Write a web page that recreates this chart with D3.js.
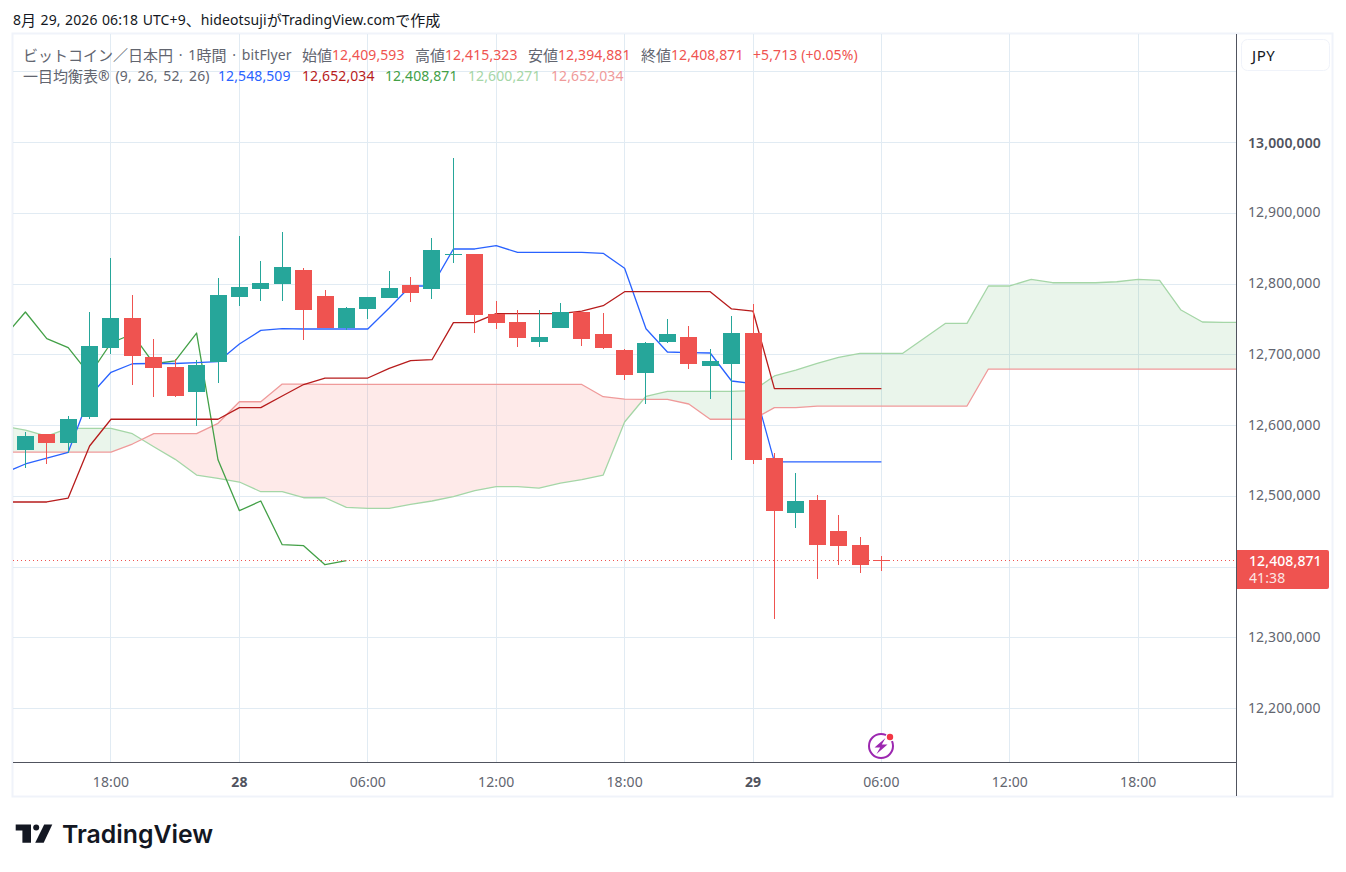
<!DOCTYPE html>
<html lang="ja"><head><meta charset="utf-8">
<script src="https://cdn.jsdelivr.net/npm/d3@7/dist/d3.min.js"></script>
<style>
html,body{margin:0;padding:0;background:#fff;overflow:hidden}
svg{display:block}
text{font-family:"Noto Sans","Noto Sans CJK JP",sans-serif;font-size:14px;letter-spacing:.1px;dominant-baseline:central}
tspan.cjk{font-family:"Noto Sans CJK JP",sans-serif;font-size:15px;letter-spacing:0}
</style></head><body><svg id="c" width="1346" height="872"></svg>
<script>
// all prices in thousands of JPY; candle series start at hour -10, relative to 28 Aug 00:00
const candleStart=-10, lineStart=-11;
const opens=[12565.4,12588.0,12575.7,12612.4,12710.0,12751.9,12696.8,12682.7,12647.8,12690.2,12782.0,12793.3,12800.4,12819.8,12783.0,12738.2,12765.1,12780.6,12798.6,12793.3,12841.6,12842.4,12758.0,12746.3,12718.4,12738.2,12760.4,12729.3,12706.7,12674.6,12718.4,12725.1,12684.5,12687.3,12730.7,12554.0,12476.7,12494.7,12450.9,12431.1,12409.593];
const highs=[12590.8,12588.0,12613.4,12760.4,12836.7,12784.4,12722.2,12694.0,12692.6,12808.5,12867.8,12832.5,12873.5,12822.6,12791.5,12767.5,12781.6,12818.4,12809.9,12865.0,12978.1,12842.4,12776.0,12763.2,12763.2,12773.1,12760.4,12759.0,12708.1,12718.0,12750.5,12740.6,12708.1,12754.8,12771.7,12561.1,12532.9,12501.8,12473.5,12442.4,12415.323];
const lows=[12539.9,12546.0,12561.1,12609.6,12701.5,12657.7,12640.7,12640.7,12599.7,12660.5,12769.3,12776.4,12776.4,12721.3,12737.8,12735.0,12750.9,12780.6,12775.0,12779.2,12830.1,12731.2,12736.8,12711.4,12711.4,12738.2,12712.8,12708.5,12664.7,12630.8,12717.0,12680.3,12637.9,12551.6,12546.0,12326.9,12455.5,12383.4,12403.2,12391.9,12394.881];
const closes=[12585.1,12575.7,12609.2,12712.4,12751.9,12698.6,12681.7,12642.1,12685.5,12784.4,12795.7,12801.4,12824.0,12763.7,12738.2,12766.1,12781.6,12794.3,12787.7,12848.0,12842.4,12756.6,12745.3,12724.1,12725.1,12760.4,12722.7,12710.0,12671.8,12716.6,12729.3,12687.3,12691.2,12730.7,12551.6,12479.6,12493.3,12431.5,12430.1,12403.2,12408.871];
const tenkan=[12532.8,12545.6,12554.0,12562.1,12641.7,12675.2,12687.3,12687.6,12687.6,12689.0,12690.2,12715.2,12734.5,12736.8,12736.4,12736.4,12736.4,12736.4,12766.1,12797.2,12797.2,12849.5,12849.5,12854.1,12844.8,12844.8,12844.8,12844.8,12843.4,12822.2,12736.8,12703.9,12702.9,12702.5,12662.9,12659.1,12548.509,12548.509,12548.509,12548.509,12548.509,12548.509];
const kijun=[12491.9,12491.9,12491.9,12497.5,12571.0,12608.8,12608.8,12608.8,12608.8,12608.8,12608.8,12625.2,12625.2,12641.7,12657.9,12667.1,12667.1,12667.1,12680.8,12691.6,12693.0,12745.3,12745.3,12758.0,12758.0,12758.0,12758.0,12761.8,12769.3,12789.1,12789.1,12789.1,12789.1,12789.1,12764.7,12761.8,12652.034,12652.034,12652.034,12652.034,12652.034,12652.034];
const chikou=[12725.1,12760.4,12722.7,12710.0,12671.8,12716.6,12729.3,12687.3,12691.2,12730.7,12551.6,12479.6,12493.3,12431.5,12430.1,12403.2,12408.871];
const spanA=[12598.7,12593.6,12585.1,12596.0,12596.0,12596.0,12588.4,12570.0,12552.2,12530.0,12525.4,12520.1,12506.4,12506.4,12497.9,12497.9,12484.4,12483.0,12483.0,12488.6,12493.3,12499.4,12507.8,12513.5,12513.5,12511.6,12518.7,12523.4,12530.0,12604.9,12641.3,12648.3,12648.3,12648.3,12648.3,12649.2,12670.0,12678.4,12687.9,12696.4,12702.0,12702.0,12702.0,12723.2,12744.4,12744.4,12797.2,12797.2,12806.6,12801.8,12801.8,12801.8,12803.2,12806.6,12805.2,12763.2,12746.3,12745.8,12745.8];
const spanB=[12562.5,12562.5,12562.5,12562.5,12562.5,12562.5,12573.8,12588.4,12588.4,12588.4,12603.1,12633.6,12633.6,12658.6,12658.6,12658.0,12658.0,12658.0,12658.0,12658.0,12658.0,12658.0,12658.0,12658.0,12658.0,12658.0,12658.0,12658.0,12640.7,12637.4,12637.0,12637.0,12630.4,12608.8,12608.8,12608.8,12625.2,12625.2,12627.5,12627.5,12627.5,12627.5,12627.5,12627.5,12627.5,12627.5,12679.8,12679.8,12679.8,12679.8,12679.8,12679.8,12679.8,12679.8,12679.8,12679.8,12679.8,12679.8,12679.8];
const lastPrice=12408.871;
const gridPrices=[13100,13000,12900,12800,12700,12600,12500,12400,12300,12200];
const labelPrices=[13000,12900,12800,12700,12600,12500,12300,12200];
const timeHours=[-6,0,6,12,18,24,30,36,42];
const timeLabels=["18:00","28","06:00","12:00","18:00","29","06:00","12:00","18:00"];
const boldTimes=["28","29"];
const legendRow1=[["ビットコイン／日本円 · 1時間 · bitFlyer",23,"gray"],["始値",302,"gray"],["12,409,593",332,"down"],["高値",415,"gray"],["12,415,323",445,"down"],["安値",528,"gray"],["12,394,881",558,"down"],["終値",641,"gray"],["12,408,871",671,"down"],["+5,713 (+0.05%)",753,"down"]];
const legendRow2=[["一目均衡表® (9, 26, 52, 26)",23,"gray"],["12,548,509",218,"tenkan"],["12,652,034",302,"kijun"],["12,408,871",385,"chikou"],["12,600,271",468,"spanA"],["12,652,034",551,"spanB"]];

const col={up:"#26a69a",down:"#ef5350",tenkan:"#2962ff",kijun:"#b71c1c",chikou:"#43a047",spanA:"#a5d6a7",spanB:"#ef9a9a",gray:"#62656f",
  grid:"#e1ebf3",frame:"#f0f3fa",axis:"#50535e",dark:"#131722"};
const P={l:13,r:1237,t:34,b:763};

const svg=d3.select("#c");
const x=d3.scaleLinear().domain([0,30]).range([239.4,881.4]);
const y=d3.scaleLinear().domain([13000,12200]).range([142.5,708.5]);

// Latin and CJK runs use different sizes, as in the reference
function mixed(sel,s){
  sel.selectAll("tspan").data(s.match(/[\u3000-\u9fff\uff00-\uffef]+|[^\u3000-\u9fff\uff00-\uffef]+/g)).join("tspan")
    .attr("class",d=>/[\u3000-\u9fff\uff00-\uffef]/.test(d)?"cjk":null).text(d=>d);
}

// frame
svg.append("rect").attr("x",12.5).attr("y",33.5).attr("width",1320).attr("height",763).attr("fill","none").attr("stroke",col.frame).attr("stroke-width",2);

const defs=svg.append("defs");
defs.append("clipPath").attr("id","plot").append("rect").attr("x",P.l).attr("y",P.t).attr("width",P.r-P.l).attr("height",P.b-P.t);
const hrs=spanA.map((_,i)=>lineStart+i);
defs.append("clipPath").attr("id","aboveB").append("path").attr("d",d3.area().x(h=>x(h)).y0(0).y1(h=>y(spanB[h-lineStart]))(hrs));
defs.append("clipPath").attr("id","belowB").append("path").attr("d",d3.area().x(h=>x(h)).y0(P.b).y1(h=>y(spanB[h-lineStart]))(hrs));

// grid
const gridG=svg.append("g").attr("shape-rendering","crispEdges").attr("stroke",col.grid);
gridG.selectAll("line.h").data(gridPrices).join("line").attr("class","h").attr("x1",P.l).attr("x2",P.r).attr("y1",d=>Math.floor(y(d))+.5).attr("y2",d=>Math.floor(y(d))+.5);
gridG.selectAll("line.v").data(timeHours).join("line").attr("class","v").attr("y1",P.t).attr("y2",P.b).attr("x1",d=>Math.floor(x(d))+.5).attr("x2",d=>Math.floor(x(d))+.5);

const plot=svg.append("g").attr("clip-path","url(#plot)");
const between=d3.area().x(h=>x(h)).y0(h=>y(spanA[h-lineStart])).y1(h=>y(spanB[h-lineStart]));
plot.append("g").attr("clip-path","url(#aboveB)").append("path").attr("d",between(hrs)).attr("fill","rgba(67,160,71,0.11)");
plot.append("g").attr("clip-path","url(#belowB)").append("path").attr("d",between(hrs)).attr("fill","rgba(244,67,54,0.11)");

const drawLine=(vals,c)=>plot.append("path").attr("fill","none").attr("stroke",c).attr("stroke-width",1.3).attr("stroke-linejoin","round")
  .attr("d",d3.line().x((_,i)=>x(lineStart+i)).y(d=>y(d))(vals));
drawLine(spanA,col.spanA);drawLine(spanB,col.spanB);drawLine(chikou,col.chikou);drawLine(tenkan,col.tenkan);drawLine(kijun,col.kijun);

// candles
const idx=d3.range(opens.length);
const candles=plot.append("g").attr("shape-rendering","crispEdges");
const cc=i=>closes[i]>=opens[i]?col.up:col.down;
candles.selectAll("rect.w").data(idx).join("rect").attr("class","w")
  .attr("x",i=>Math.floor(x(candleStart+i))).attr("width",1)
  .attr("y",i=>Math.round(y(highs[i]))).attr("height",i=>Math.round(y(lows[i]))-Math.round(y(highs[i]))).attr("fill",cc);
candles.selectAll("rect.b").data(idx).join("rect").attr("class","b")
  .attr("x",i=>Math.floor(x(candleStart+i))-8).attr("width",17)
  .attr("y",i=>Math.round(y(Math.max(opens[i],closes[i]))))
  .attr("height",i=>Math.max(1,Math.round(y(Math.min(opens[i],closes[i])))-Math.round(y(Math.max(opens[i],closes[i])))))
  .attr("fill",cc);

// last price dotted line
plot.append("line").attr("x1",P.l).attr("x2",P.r).attr("y1",Math.floor(y(lastPrice))+.5).attr("y2",Math.floor(y(lastPrice))+.5)
  .attr("stroke",col.down).attr("stroke-dasharray","1 3").attr("shape-rendering","crispEdges");

// axes
const yAxis=svg.append("g").attr("transform",`translate(${P.r},0)`)
  .call(d3.axisRight(y).tickValues(labelPrices).tickSize(0).tickPadding(11).tickFormat(d=>d3.format(",")(d*1000)));
yAxis.select(".domain").remove();
yAxis.selectAll("text").attr("dy",null).attr("y",d=>d===13000?-1:-2).style("font-weight",d=>d===13000?600:400).attr("fill",d=>d===13000?"#50535e":col.gray);
yAxis.attr("font-family",null).attr("font-size",null);
const xAxis=svg.append("g").attr("transform",`translate(-0.5,${P.b})`)
  .call(d3.axisBottom(x).tickValues(timeHours).tickSize(0).tickPadding(18).tickFormat((d,i)=>timeLabels[i]));
xAxis.select(".domain").remove();
xAxis.selectAll("text").attr("dy",null).attr("y",18).attr("fill",(d,i)=>boldTimes.includes(timeLabels[i])?"#50535e":col.gray)
  .style("font-weight",(d,i)=>boldTimes.includes(timeLabels[i])?700:400);
xAxis.attr("font-family",null).attr("font-size",null);

svg.append("g").attr("shape-rendering","crispEdges").attr("stroke",col.axis).call(g=>{
  g.append("line").attr("x1",P.l).attr("x2",P.r).attr("y1",P.b-.5).attr("y2",P.b-.5);
  g.append("line").attr("x1",P.r-.5).attr("x2",P.r-.5).attr("y1",P.t).attr("y2",796);
});

// price tag
svg.append("path").attr("d","M1237 550H1327a2 2 0 0 1 2 2V587a2 2 0 0 1-2 2H1237Z").attr("fill",col.down);
svg.append("text").attr("x",1249).attr("y",560).attr("fill","#fff").style("font-weight",500).text(d3.format(",")(lastPrice*1000));
svg.append("text").attr("x",1249).attr("y",577).attr("fill","#ffffff").attr("opacity",.85).text("41:38");

// currency button
svg.append("rect").attr("x",1241.5).attr("y",39.5).attr("width",88).attr("height",31).attr("rx",6).attr("fill","#fff").attr("stroke",col.frame);
svg.append("text").attr("x",1252).attr("y",55).attr("fill",col.dark).style("font-size","15px").style("letter-spacing",".6px").text("JPY");

// title and legend
svg.append("text").attr("x",13).attr("y",19).attr("fill",col.dark).style("word-spacing",".7px").call(mixed,"8月 29, 2026 06:18 UTC+9、hideotsujiがTradingView.comで作成");
const leg=(row,yy)=>row.forEach(d=>svg.append("text").attr("x",d[1]).attr("y",yy).attr("fill",col[d[2]]).style("word-spacing",d[2]==="gray"?"2px":null).call(mixed,d[0]));
leg(legendRow1,54);leg(legendRow2,75);

// event icon
const ev=svg.append("g").attr("transform","translate(881,746)");
ev.append("circle").attr("r",12).attr("fill","#fff").attr("stroke","#9c27b0").attr("stroke-width",2);
ev.append("path").attr("d","M4.5-8L-6.5 1.5H-.8L-4.5 8L6.5-1.5H.8Z").attr("fill","#9c27b0");
ev.append("circle").attr("cx",9).attr("cy",-9).attr("r",4.5).attr("fill","#fff");
ev.append("circle").attr("cx",9).attr("cy",-9).attr("r",3.2).attr("fill","#f23645");

// logo
const lg=svg.append("g").attr("transform","translate(15.7,824.5)").attr("fill",col.dark);
lg.append("path").attr("d","M15.3 18.3H6.7V6H0V0H15.3Z");
lg.append("circle").attr("cx",20.5).attr("cy",3).attr("r",3);
lg.append("path").attr("d","M28.5 0H36.6L28 18.3H19.5Z");
svg.append("text").attr("x",62).attr("y",834).attr("fill",col.dark).style("font-family","Inter").style("font-size","24.8px").style("letter-spacing","0").style("font-weight",600).text("TradingView");
</script></body></html>
